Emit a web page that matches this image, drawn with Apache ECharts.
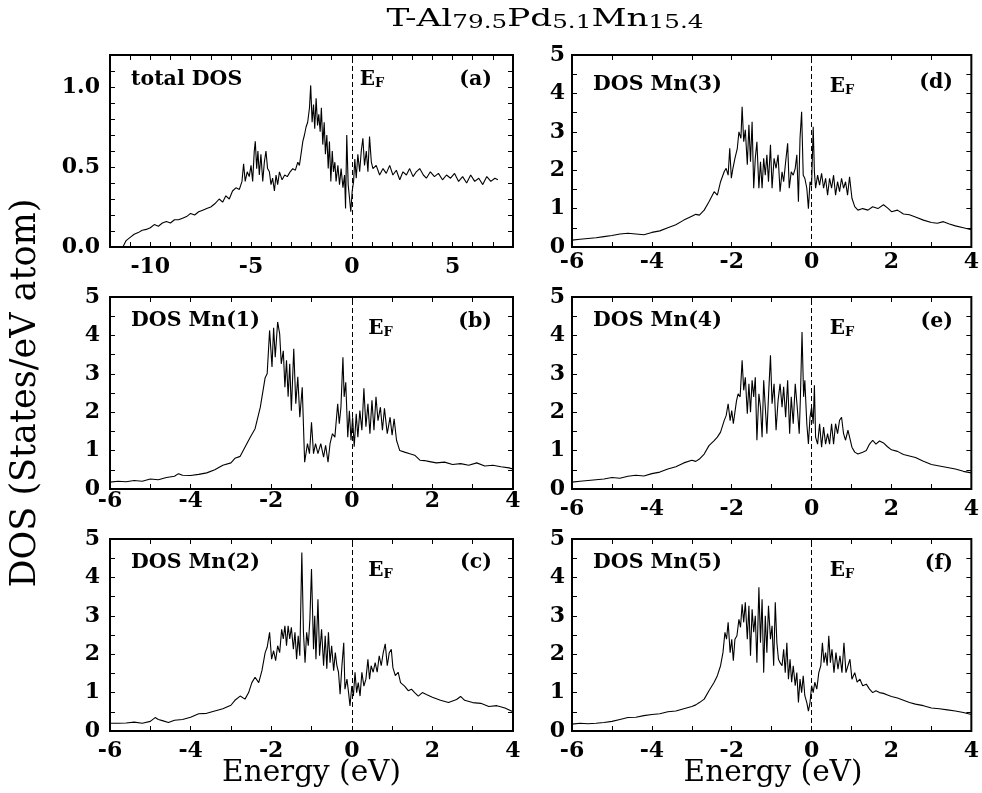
<!DOCTYPE html>
<html><head><meta charset="utf-8">
<script src="https://cdn.jsdelivr.net/npm/echarts@6/dist/echarts.min.js"></script>
<style>html,body{margin:0;padding:0;background:#fff;}#c{width:982px;height:793px;}</style>
</head><body><div id="c"></div>
<script>
// ---------------- data ----------------
const xTicksTotal = [-10, -5, 0, 5];
const yTicksTotal = [0, 0.5, 1.0];
const xTicksMn = [-6, -4, -2, 0, 2, 4];
const yTicksMn = [0, 1, 2, 3, 4, 5];

const eTotal = [-11.36,-11.2,-11.0,-10.8,-10.6,-10.4,-10.2,-10.0,-9.8,-9.6,-9.4,-9.2,-9.0,-8.8,-8.6,-8.4,-8.2,-8.0,-7.8,-7.6,-7.4,-7.2,-7.0,-6.8,
 -6.58,-6.41,-6.25,-6.08,-5.92,-5.75,-5.58,-5.45,-5.37,-5.29,-5.19,-5.09,-5.00,-4.92,-4.84,-4.79,-4.72,-4.66,-4.59,-4.51,
 -4.42,-4.34,-4.26,-4.18,-4.09,-4.01,-3.93,-3.84,-3.76,-3.68,-3.59,-3.46,-3.33,-3.20,-3.06,-2.93,-2.80,-2.68,-2.60,-2.52,
 -2.43,-2.35,-2.27,-2.19,-2.10,-2.04,-1.97,-1.90,-1.84,-1.77,-1.70,-1.64,-1.57,-1.51,-1.44,-1.37,-1.31,-1.24,-1.17,-1.11,
 -1.04,-0.97,-0.91,-0.84,-0.78,-0.69,-0.61,-0.53,-0.44,-0.36,-0.31,-0.25,-0.18,-0.11,-0.05,0.02,0.09,0.15,0.22,0.30,
 0.39,0.47,0.55,0.63,0.72,0.80,0.88,0.97,1.05,1.21,1.38,1.55,1.71,1.88,2.04,2.21,2.38,2.54,2.71,2.87,3.04,3.20,3.37,
 3.55,3.7,3.9,4.1,4.3,4.5,4.7,4.9,5.1,5.3,5.5,5.7,5.9,6.1,6.3,6.5,6.7,6.9,7.1,7.25];
const dosTotal = [0.0,0.04,0.06,0.08,0.09,0.105,0.11,0.12,0.14,0.13,0.15,0.16,0.15,0.17,0.17,0.18,0.19,0.21,0.2,0.22,0.23,0.24,0.25,0.27,
 0.30,0.28,0.32,0.30,0.35,0.37,0.36,0.41,0.52,0.41,0.47,0.44,0.51,0.41,0.60,0.66,0.49,0.60,0.45,0.58,
 0.41,0.53,0.60,0.49,0.47,0.39,0.43,0.35,0.45,0.39,0.47,0.42,0.45,0.44,0.47,0.49,0.48,0.53,0.51,0.58,
 0.66,0.70,0.75,0.78,0.87,1.01,0.78,0.89,0.74,0.93,0.76,0.83,0.72,0.87,0.64,0.78,0.58,0.70,0.49,0.66,
 0.41,0.60,0.47,0.53,0.41,0.51,0.39,0.49,0.37,0.45,0.24,0.70,0.39,0.30,0.22,0.35,0.41,0.55,0.43,0.58,
 0.47,0.60,0.68,0.51,0.60,0.47,0.69,0.53,0.49,0.51,0.45,0.49,0.46,0.51,0.45,0.48,0.42,0.47,0.45,0.49,0.44,0.47,0.49,
 0.45,0.43,0.47,0.44,0.46,0.42,0.45,0.43,0.46,0.41,0.44,0.40,0.45,0.41,0.43,0.39,0.44,0.41,0.43,0.42];

const eMn1 = [-6.0,-5.8,-5.6,-5.4,-5.2,-5.0,-4.8,-4.6,-4.4,-4.3,-4.2,-4.0,-3.8,-3.6,-3.4,-3.2,-3.0,-2.9,
 -2.77,-2.52,-2.40,-2.27,-2.15,-2.10,-2.04,-1.98,-1.94,-1.90,-1.84,-1.79,-1.75,-1.70,-1.66,-1.62,-1.58,-1.54,-1.50,-1.44,
 -1.39,-1.34,-1.29,-1.23,-1.17,-1.10,-1.05,-1.00,-0.95,-0.90,-0.84,-0.77,-0.70,-0.65,-0.59,-0.54,-0.48,-0.42,-0.35,-0.31,
 -0.27,-0.22,-0.19,-0.15,-0.10,-0.06,-0.02,0.02,0.06,0.11,0.15,0.20,0.25,0.30,0.35,0.40,0.45,0.50,0.55,0.60,
 0.65,0.71,0.76,0.81,0.88,0.95,1.00,1.05,1.11,1.19,1.31,1.44,1.56,1.69,
 1.8,1.9,2.1,2.3,2.5,2.7,2.9,3.1,3.3,3.5,3.7,3.9,4.0];
const dosMn1 = [0.18,0.2,0.19,0.22,0.2,0.26,0.24,0.3,0.33,0.4,0.36,0.35,0.38,0.42,0.5,0.62,0.68,0.8,
 0.85,1.35,1.57,2.13,2.9,3.0,4.13,3.18,4.2,3.43,4.35,4.04,3.26,3.6,2.65,3.35,2.4,3.26,2.04,3.65,
 2.22,2.92,1.87,2.65,0.7,1.18,0.92,1.74,0.92,1.18,0.92,1.18,0.83,1.14,0.7,1.18,1.44,1.35,2.22,1.7,
 2.13,3.43,2.4,2.78,1.35,2.04,1.27,1.87,1.1,1.96,1.35,2.04,1.53,2.62,1.62,2.22,1.44,2.31,1.53,2.4,
 1.78,2.13,1.53,2.1,1.44,1.87,1.4,1.83,1.27,1.0,0.96,0.92,0.88,0.75,
 0.74,0.72,0.68,0.7,0.64,0.66,0.62,0.68,0.6,0.62,0.58,0.55,0.52];

const eMn2 = [-6.0,-5.8,-5.6,-5.4,-5.2,-5.0,-4.88,-4.8,-4.7,-4.55,-4.4,-4.2,-4.0,-3.8,-3.6,-3.4,-3.2,-3.0,-2.9,
 -2.77,-2.65,-2.56,-2.48,-2.40,-2.31,-2.23,-2.15,-2.10,-2.04,-1.99,-1.94,-1.89,-1.84,-1.79,-1.74,-1.70,-1.66,-1.62,-1.58,
 -1.54,-1.50,-1.45,-1.41,-1.37,-1.33,-1.29,-1.24,-1.20,-1.16,-1.12,-1.08,-1.04,-1.00,-0.95,-0.92,-0.89,-0.84,-0.80,-0.75,
 -0.70,-0.66,-0.62,-0.58,-0.54,-0.50,-0.45,-0.41,-0.37,-0.33,-0.29,-0.245,-0.20,-0.17,-0.12,-0.08,-0.045,0.0,0.04,0.08,
 0.12,0.16,0.205,0.25,0.30,0.35,0.40,0.44,0.48,0.53,0.58,0.63,0.68,0.73,0.78,0.83,0.88,0.93,0.98,1.02,
 1.08,1.15,1.21,1.31,1.40,1.48,1.56,1.65,
 1.75,1.85,2.0,2.2,2.4,2.6,2.7,2.8,3.0,3.2,3.4,3.6,3.8,4.0];
const dosMn2 = [0.2,0.2,0.21,0.23,0.2,0.25,0.35,0.3,0.27,0.22,0.28,0.3,0.36,0.45,0.46,0.52,0.58,0.67,0.8,
 0.91,0.83,1.0,1.26,1.4,1.26,1.57,2.04,2.18,2.57,1.87,2.09,1.83,2.22,2.04,2.65,2.4,2.74,2.22,2.74,
 2.4,2.7,2.13,2.57,1.87,2.48,1.96,4.65,2.57,1.78,2.57,2.22,2.91,4.22,2.13,3.0,1.87,3.43,1.96,2.65,
 1.7,2.48,1.62,2.57,1.78,2.22,1.57,2.04,1.7,1.53,0.96,1.7,2.3,1.09,1.35,1.0,0.65,1.17,0.91,1.53,
 1.0,1.26,0.91,1.53,1.17,1.35,1.87,1.35,1.7,1.53,1.78,1.53,1.96,1.7,2.04,2.27,1.7,2.04,2.13,1.65,
 1.44,1.53,1.26,1.17,1.05,1.09,1.0,0.91,
 1.0,0.95,0.88,0.8,0.74,0.82,0.9,0.8,0.74,0.72,0.64,0.66,0.6,0.5];

const eMn3 = [-6.0,-5.8,-5.6,-5.4,-5.2,-5.0,-4.8,-4.6,-4.4,-4.2,-4.0,-3.8,-3.6,-3.4,-3.2,-3.0,-2.9,
 -2.81,-2.69,-2.57,-2.44,-2.36,-2.28,-2.19,-2.14,-2.09,-2.05,-2.01,-1.97,-1.92,-1.86,-1.82,-1.77,-1.74,-1.70,-1.66,-1.61,
 -1.57,-1.53,-1.49,-1.45,-1.41,-1.37,-1.32,-1.28,-1.24,-1.20,-1.16,-1.12,-1.08,-1.03,-0.99,-0.94,-0.89,-0.84,-0.79,-0.74,
 -0.70,-0.65,-0.60,-0.56,-0.51,-0.46,-0.41,-0.37,-0.33,-0.29,-0.25,-0.21,-0.17,-0.12,-0.08,-0.04,0.00,0.04,0.07,0.10,
 0.15,0.20,0.25,0.30,0.35,0.40,0.45,0.50,0.55,0.60,0.65,0.70,0.75,0.80,0.85,0.90,0.95,1.01,1.08,1.16,
 1.28,1.41,1.53,1.66,
 1.8,1.9,2.0,2.15,2.3,2.45,2.6,2.8,3.0,3.15,3.3,3.45,3.6,3.8,4.0];
const dosMn3 = [0.18,0.2,0.22,0.24,0.27,0.3,0.34,0.36,0.34,0.32,0.38,0.42,0.5,0.58,0.7,0.8,0.85,
 0.83,0.96,1.18,1.44,1.35,1.7,1.96,2.05,1.87,2.57,1.79,2.05,2.31,2.57,3.0,2.83,3.65,2.74,3.05,2.14,
 3.18,2.22,3.26,1.53,2.31,2.74,1.53,2.22,1.53,2.31,1.87,2.4,1.7,2.66,1.53,2.31,2.05,2.4,1.44,1.96,
 1.7,2.22,2.7,1.53,1.96,1.87,2.05,2.4,1.18,2.83,3.52,1.87,1.79,1.53,1.0,1.7,1.61,3.13,1.96,1.53,
 1.87,1.61,1.92,1.53,1.79,1.35,1.79,1.53,1.87,1.35,1.7,1.44,1.79,1.53,1.7,1.35,1.83,1.27,1.05,0.96,
 1.0,0.96,1.05,1.0,
 1.1,1.02,0.92,0.96,0.86,0.84,0.78,0.7,0.64,0.62,0.66,0.6,0.55,0.5,0.45];

const eMn4 = [-6.0,-5.8,-5.6,-5.4,-5.2,-5.0,-4.8,-4.6,-4.4,-4.2,-4.0,-3.8,-3.6,-3.4,-3.2,-3.0,-2.9,
 -2.81,-2.69,-2.57,-2.44,-2.36,-2.28,-2.19,-2.14,-2.09,-2.04,-2.00,-1.96,-1.92,-1.88,-1.84,-1.79,-1.74,-1.70,-1.66,-1.61,
 -1.57,-1.53,-1.49,-1.45,-1.41,-1.37,-1.32,-1.28,-1.24,-1.20,-1.16,-1.12,-1.08,-1.03,-0.99,-0.94,-0.89,-0.84,-0.79,-0.74,
 -0.70,-0.65,-0.60,-0.55,-0.51,-0.46,-0.41,-0.36,-0.31,-0.28,-0.24,-0.20,-0.17,-0.12,-0.08,-0.04,0.00,0.04,0.07,0.10,
 0.15,0.20,0.25,0.30,0.35,0.40,0.45,0.50,0.55,0.60,0.65,0.70,0.75,0.80,0.85,0.91,0.96,1.01,1.08,1.16,
 1.28,1.37,1.45,1.53,1.61,
 1.7,1.8,1.9,2.0,2.15,2.3,2.45,2.6,2.8,3.0,3.2,3.4,3.6,3.8,4.0];
const dosMn4 = [0.18,0.2,0.22,0.24,0.26,0.3,0.28,0.33,0.36,0.34,0.4,0.44,0.52,0.58,0.68,0.75,0.72,
 0.78,0.91,1.13,1.26,1.35,1.48,1.78,1.91,2.22,1.78,2.04,1.7,2.0,2.3,2.48,2.4,3.35,2.57,2.91,1.96,
 2.74,2.0,2.83,2.4,2.91,1.27,2.48,2.13,1.35,2.83,2.13,1.44,2.4,3.48,2.22,2.74,1.53,2.3,2.74,2.13,
 2.66,1.87,2.83,1.44,2.4,1.7,2.74,2.13,1.44,2.4,4.09,2.4,2.83,1.7,1.17,1.87,2.13,1.7,2.7,1.35,
 1.17,1.7,1.09,1.61,1.17,1.44,1.17,1.7,1.17,1.7,1.44,1.79,1.87,1.44,1.27,1.53,1.53,1.09,0.96,0.91,
 0.96,1.0,1.17,1.27,1.17,
 1.25,1.2,1.1,1.02,0.98,0.9,0.86,0.82,0.72,0.64,0.6,0.56,0.52,0.46,0.42];

const eMn5 = [-6.0,-5.8,-5.6,-5.4,-5.2,-5.0,-4.8,-4.6,-4.4,-4.2,-4.0,-3.8,-3.6,-3.4,-3.2,-3.0,-2.9,
 -2.81,-2.69,-2.57,-2.44,-2.36,-2.28,-2.22,-2.17,-2.13,-2.09,-2.04,-2.00,-1.96,-1.92,-1.87,-1.82,-1.78,-1.74,-1.70,-1.66,
 -1.61,-1.57,-1.53,-1.49,-1.45,-1.41,-1.37,-1.32,-1.28,-1.24,-1.20,-1.16,-1.12,-1.08,-1.03,-0.99,-0.95,-0.91,-0.87,-0.83,
 -0.79,-0.74,-0.70,-0.66,-0.62,-0.58,-0.54,-0.50,-0.46,-0.41,-0.37,-0.33,-0.29,-0.25,-0.21,-0.17,-0.12,-0.08,-0.04,0.00,
 0.04,0.08,0.13,0.18,0.23,0.27,0.31,0.35,0.39,0.43,0.47,0.51,0.56,0.61,0.66,0.71,0.76,0.81,0.86,0.91,
 0.96,1.01,1.08,1.14,1.21,1.28,1.37,1.45,1.53,1.61,
 1.7,1.8,1.9,2.0,2.15,2.3,2.45,2.6,2.8,3.0,3.2,3.4,3.6,3.8,4.0];
const dosMn5 = [0.18,0.2,0.19,0.2,0.22,0.25,0.3,0.35,0.36,0.4,0.43,0.45,0.5,0.52,0.58,0.64,0.68,
 0.74,0.83,1.05,1.27,1.44,1.7,2.04,2.57,2.39,2.83,2.04,2.39,1.83,2.39,2.48,2.91,2.7,3.3,2.83,3.35,
 2.39,3.26,1.96,3.17,2.57,3.0,1.78,3.74,2.3,3.43,1.52,3.0,2.04,3.26,2.39,2.74,1.7,3.35,2.3,1.87,
 1.78,1.7,2.13,1.52,2.3,1.35,1.87,1.27,1.7,1.18,1.52,0.74,1.35,1.0,1.44,0.92,0.74,0.52,0.74,1.18,
 1.0,1.27,1.09,1.52,1.7,2.3,1.78,2.04,1.7,2.48,1.78,2.13,1.52,2.04,1.61,1.96,1.52,2.3,1.52,1.7,
 1.87,1.35,1.52,1.27,1.35,1.18,1.22,1.09,1.0,1.05,
 1.0,0.98,0.94,0.9,0.86,0.8,0.74,0.7,0.66,0.6,0.58,0.55,0.52,0.48,0.43];

// ---------------- layout / styling ----------------
const SERIF = '"DejaVu Serif", "Liberation Serif", serif';
const panels = [
  {e:eTotal, d:dosTotal, left:110, top:55, w:403, h:192, xmin:-12, xmax:8, xint:1, xt:xTicksTotal, ymax:1.2, yint:0.1, yt:yTicksTotal, ydec:1,
   name:'total DOS', tag:'(a)', nameDy:25, tagDy:25, efDx:8, efDy:25, xm:9, ym:10},
  {e:eMn1, d:dosMn1, left:110, top:297, w:403, h:192, xmin:-6, xmax:4, xint:1, xt:xTicksMn, ymax:5, yint:0.5, yt:yTicksMn, ydec:0,
   name:'DOS Mn(1)', tag:'(b)', nameDy:24, tagDy:24.5, efDx:16.5, efDy:32, xm:1, ym:10},
  {e:eMn2, d:dosMn2, left:110, top:539, w:403, h:192, xmin:-6, xmax:4, xint:1, xt:xTicksMn, ymax:5, yint:0.5, yt:yTicksMn, ydec:0,
   name:'DOS Mn(2)', tag:'(c)', nameDy:23.5, tagDy:24, efDx:16.5, efDy:32, xm:9, ym:10},
  {e:eMn3, d:dosMn3, left:572, top:55, w:402, h:192, xmin:-6, xmax:4, xint:1, xt:xTicksMn, ymax:5, yint:0.5, yt:yTicksMn, ydec:0,
   name:'DOS Mn(3)', tag:'(d)', nameDy:30, tagDy:27.5, efDx:16.5, efDy:32, xm:4, ym:7},
  {e:eMn4, d:dosMn4, left:572, top:297, w:402, h:192, xmin:-6, xmax:4, xint:1, xt:xTicksMn, ymax:5, yint:0.5, yt:yTicksMn, ydec:0,
   name:'DOS Mn(4)', tag:'(e)', nameDy:24, tagDy:24.5, efDx:16.5, efDy:32, xm:9, ym:7},
  {e:eMn5, d:dosMn5, left:572, top:539, w:402, h:192, xmin:-6, xmax:4, xint:1, xt:xTicksMn, ymax:5, yint:0.5, yt:yTicksMn, ydec:0,
   name:'DOS Mn(5)', tag:'(f)', nameDy:23.5, tagDy:25, efDx:16.5, efDy:32, xm:9, ym:7}
];

const isTick = (v, list) => list.some(t => Math.abs(t - v) < 1e-6);
const tickStyle = {show:true, inside:true, length:5, lineStyle:{color:'#000', width:1}};
const labelFont = {color:'#000', fontFamily:SERIF, fontWeight:'bold', fontSize:22};
const noLine = {show:false, onZero:false};

const grid = [], xAxis = [], yAxis = [], series = [], graphic = [];
panels.forEach((p, i) => {
  grid.push({left:p.left, top:p.top, width:p.w, height:p.h, show:true, borderColor:'#000', borderWidth:2, backgroundColor:'#fff', containLabel:false});
  xAxis.push({gridIndex:i, type:'value', position:'bottom', min:p.xmin, max:p.xmax, interval:p.xint,
    axisLine:noLine, splitLine:{show:false}, axisTick:tickStyle,
    axisLabel:Object.assign({margin:p.xm, showMinLabel:true, showMaxLabel:true,
      formatter: v => isTick(v, p.xt) ? String(Math.round(v)) : ''}, labelFont)});
  xAxis.push({gridIndex:i, type:'value', position:'top', min:p.xmin, max:p.xmax, interval:p.xint,
    axisLine:noLine, splitLine:{show:false}, axisTick:tickStyle, axisLabel:{show:false}});
  yAxis.push({gridIndex:i, type:'value', position:'left', min:0, max:p.ymax, interval:p.yint,
    axisLine:noLine, splitLine:{show:false}, axisTick:tickStyle,
    axisLabel:Object.assign({margin:p.ym, showMinLabel:true, showMaxLabel:true,
      formatter: v => isTick(v, p.yt) ? v.toFixed(p.ydec) : ''}, labelFont)});
  yAxis.push({gridIndex:i, type:'value', position:'right', min:0, max:p.ymax, interval:p.yint,
    axisLine:noLine, splitLine:{show:false}, axisTick:tickStyle, axisLabel:{show:false}});
  const n = Math.min(p.e.length, p.d.length);
  const data = [];
  for (let k = 0; k < n; k++) data.push([p.e[k], p.d[k]]);
  series.push({type:'line', xAxisIndex:2*i, yAxisIndex:2*i, data, showSymbol:false, symbol:'none',
    lineStyle:{color:'#000', width:1.1}, clip:true, z:3,
    markLine:{silent:true, symbol:['none','none'], label:{show:false},
      lineStyle:{color:'#000', type:[5,3], width:1}, data:[{xAxis:0}]}});

  const zeroX = p.left + (0 - p.xmin) / (p.xmax - p.xmin) * p.w;
  graphic.push({type:'text', x:p.left + 21, y:p.top + p.nameDy, z:10,
    style:{text:p.name, fill:'#000', fontFamily:SERIF, fontWeight:'bold', fontSize:20.5,
      align:'left', verticalAlign:'middle', textAlign:'left', textVerticalAlign:'middle'}});
  graphic.push({type:'text', x:p.left + p.w - 21, y:p.top + p.tagDy, z:10,
    style:{text:p.tag, fill:'#000', fontFamily:SERIF, fontWeight:'bold', fontSize:20.5,
      align:'right', verticalAlign:'middle', textAlign:'right', textVerticalAlign:'middle'}});
  graphic.push({type:'text', x:zeroX + p.efDx, y:p.top + p.efDy, z:10,
    style:{text:'{e|E}{f|F}', fill:'#000', align:'left', verticalAlign:'middle', textAlign:'left', textVerticalAlign:'middle',
      rich:{e:{fontFamily:SERIF, fontWeight:'bold', fontSize:20, lineHeight:20, fill:'#000'},
            f:{fontFamily:SERIF, fontWeight:'bold', fontSize:13, fill:'#000', verticalAlign:'bottom'}}}});
});

// title
graphic.push({type:'text', x:545, y:19.5, z:10, scaleX:1.37,
  style:{text:'{m|T-Al}{s|79.5}{m|Pd}{s|5.1}{m|Mn}{s|15.4}', fill:'#000', align:'center', verticalAlign:'middle',
    textAlign:'center', textVerticalAlign:'middle',
    rich:{m:{fontFamily:SERIF, fontSize:25, lineHeight:26, fill:'#000'},
          s:{fontFamily:SERIF, fontSize:18, fill:'#000', verticalAlign:'bottom'}}}});
// y-axis name
graphic.push({type:'text', x:26, y:393, rotation:Math.PI/2, z:10,
  style:{text:'DOS (States/eV atom)', fill:'#000', fontFamily:SERIF, fontSize:35,
    align:'center', verticalAlign:'middle', textAlign:'center', textVerticalAlign:'middle'}});
// x-axis names
[[311.5, 773], [773, 773]].forEach(([x, y]) => graphic.push({type:'text', x, y, z:10,
  style:{text:'Energy (eV)', fill:'#000', fontFamily:SERIF, fontSize:29.5,
    align:'center', verticalAlign:'middle', textAlign:'center', textVerticalAlign:'middle'}}));

const chart = echarts.init(document.getElementById('c'), null, {renderer:'canvas'});
chart.setOption({backgroundColor:'#fff', animation:false, grid, xAxis, yAxis, series, graphic});
</script></body></html>
